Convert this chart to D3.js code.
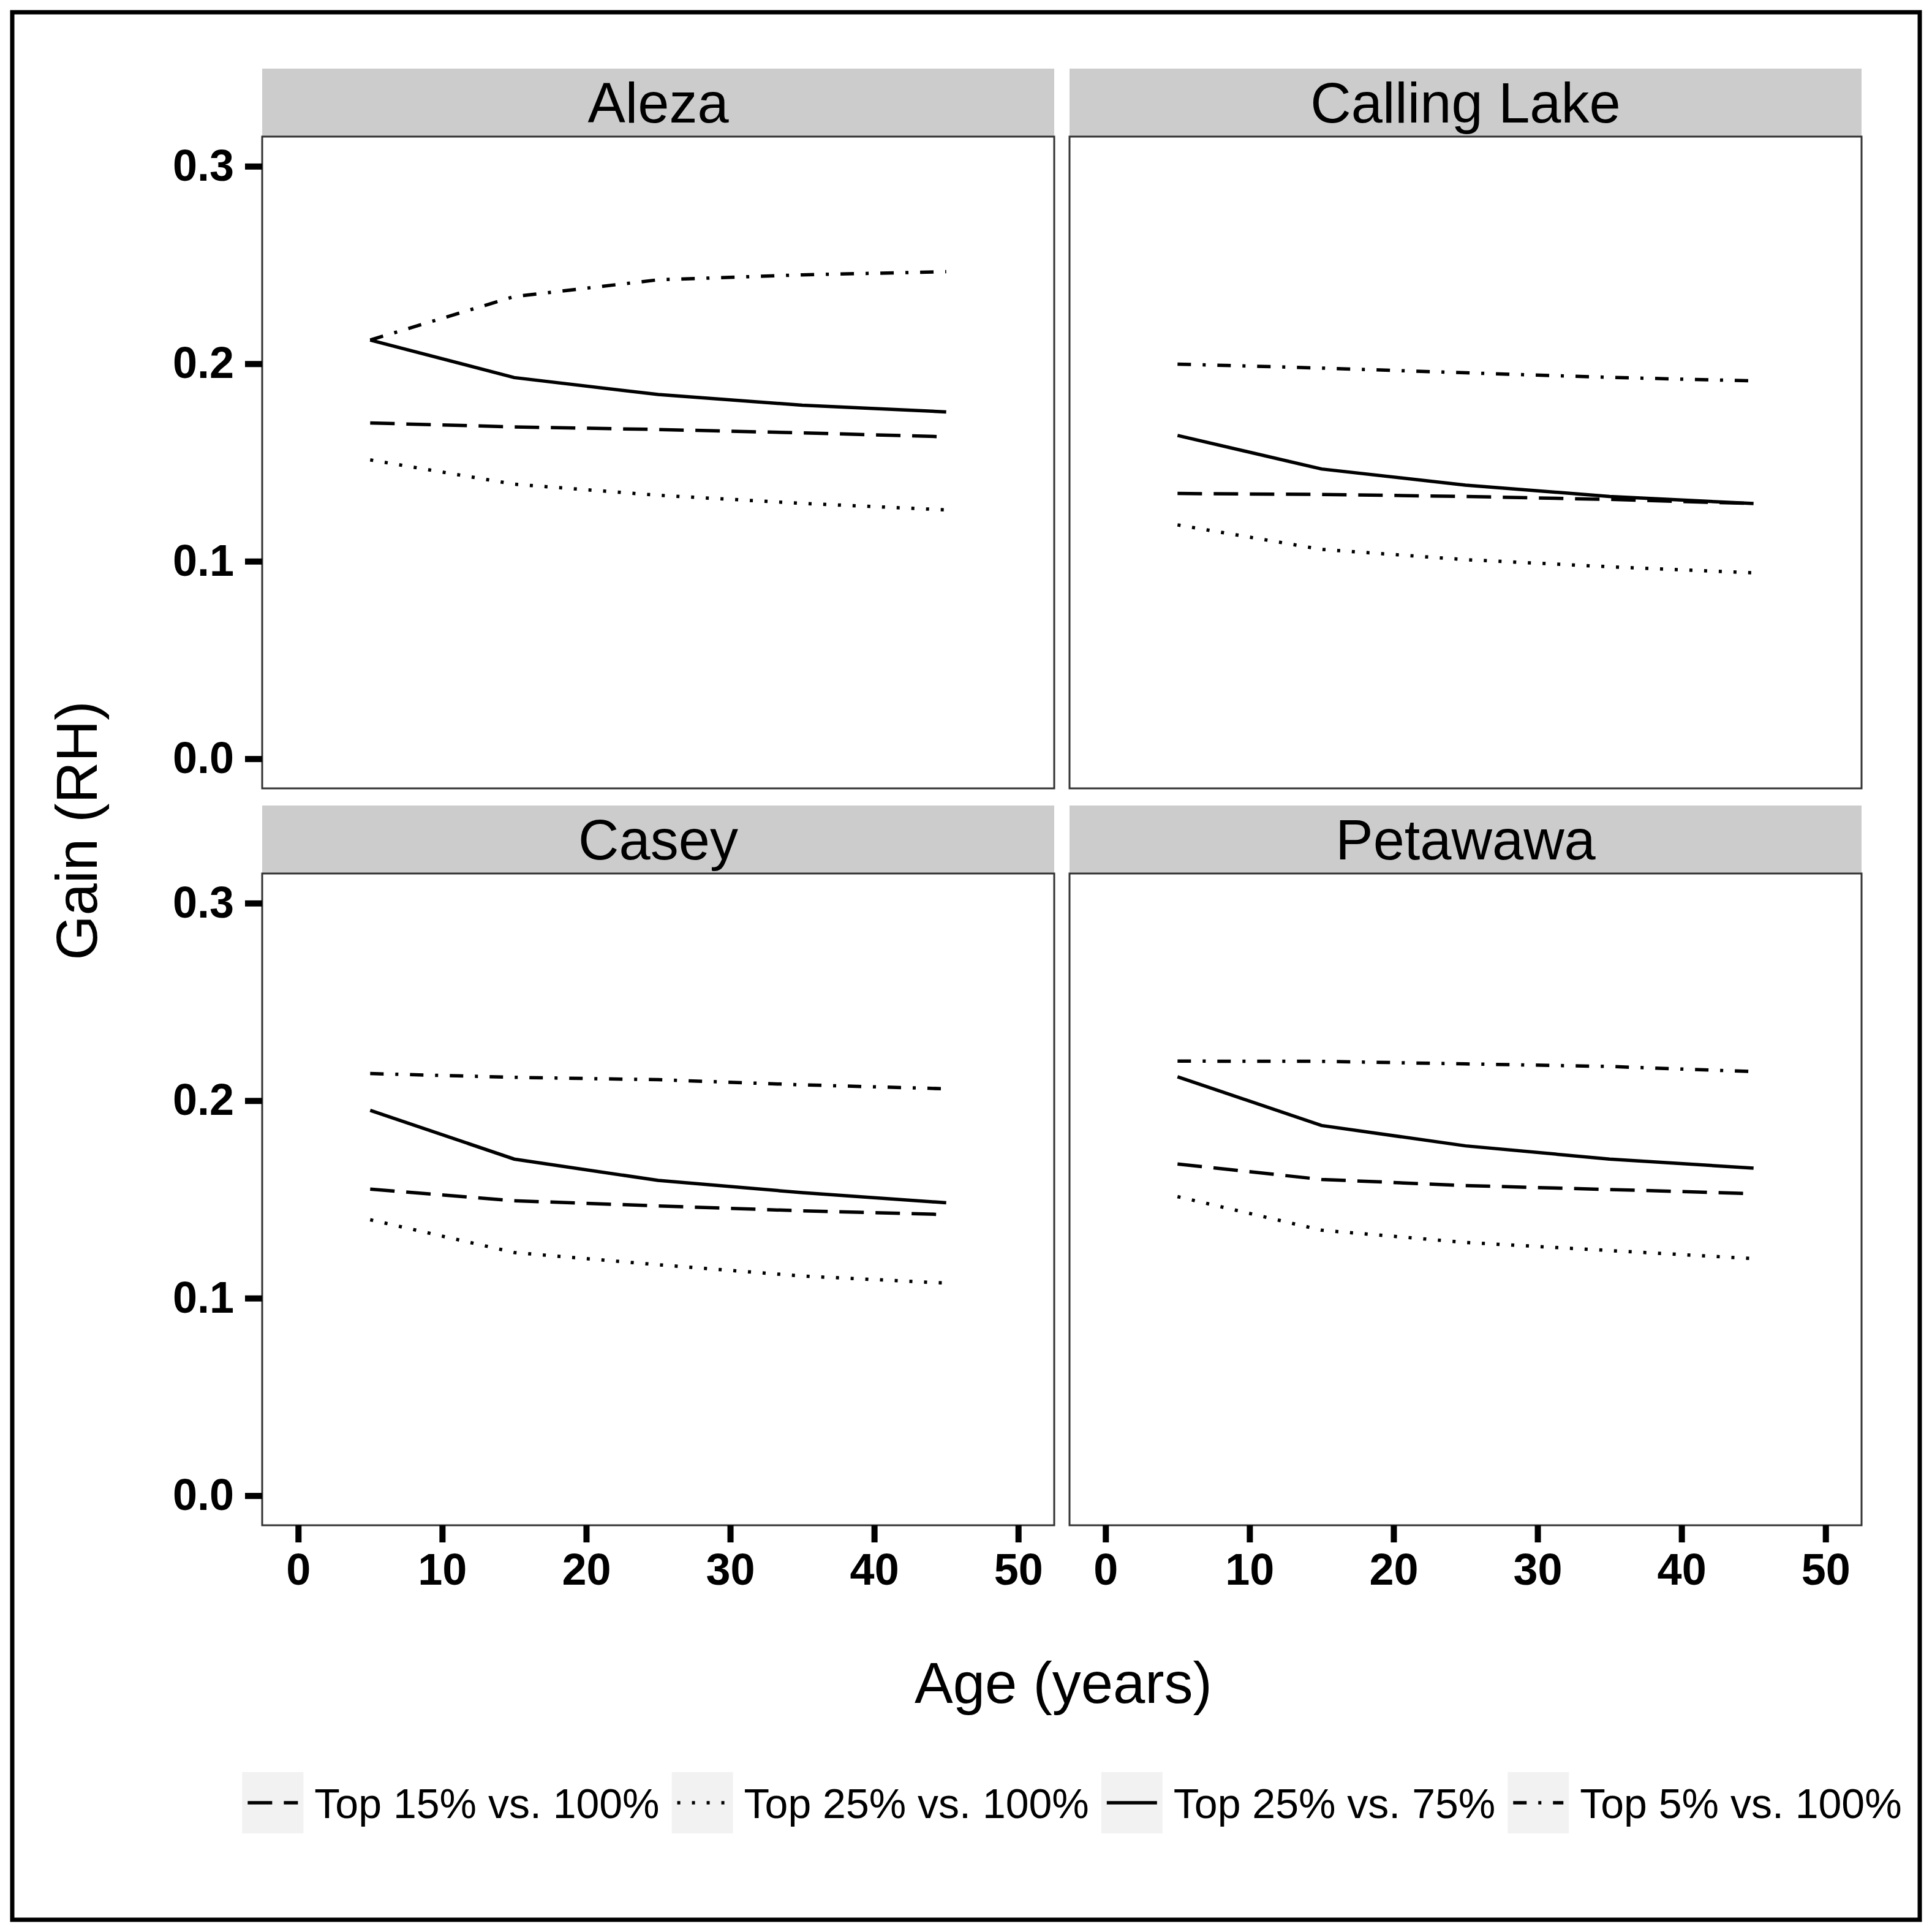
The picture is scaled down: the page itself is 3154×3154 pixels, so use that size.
<!DOCTYPE html>
<html>
<head>
<meta charset="utf-8">
<script src="https://cdn.jsdelivr.net/npm/d3@7"></script>
<style>
  body { margin: 0; background: #fff; }
  text { font-family: "Liberation Sans", Arial, sans-serif; }
</style>
</head>
<body>
<svg id="chart" width="3154" height="3154"></svg>
<script>
// ages at which gain was estimated
var ages = [5, 15, 25, 35, 45];
var sites = ["Aleza", "Calling Lake", "Casey", "Petawawa"];
var seriesNames = ["Top 15% vs. 100%", "Top 25% vs. 100%", "Top 25% vs. 75%", "Top 5% vs. 100%"];

// one row per site, same order as sites
var top15vs100 = [
  [0.170, 0.168, 0.1667, 0.165, 0.163],
  [0.1343, 0.1338, 0.1328, 0.1313, 0.1292],
  [0.1552, 0.1493, 0.1467, 0.1442, 0.1423],
  [0.1679, 0.1601, 0.157, 0.155, 0.1529]
];
var top25vs100 = [
  [0.1513, 0.139, 0.1334, 0.1293, 0.126],
  [0.1184, 0.106, 0.1008, 0.0972, 0.0941],
  [0.1397, 0.1231, 0.1169, 0.1112, 0.1076],
  [0.1514, 0.1344, 0.1282, 0.1241, 0.120]
];
var top25vs75 = [
  [0.212, 0.193, 0.1844, 0.179, 0.1756],
  [0.1637, 0.1467, 0.1385, 0.1328, 0.1292],
  [0.1951, 0.1704, 0.1596, 0.1534, 0.1483],
  [0.2121, 0.1874, 0.1771, 0.1704, 0.1658]
];
var top5vs100 = [
  [0.212, 0.234, 0.2425, 0.245, 0.2466],
  [0.1998, 0.1978, 0.1954, 0.1931, 0.1913],
  [0.2137, 0.2118, 0.2106, 0.208, 0.206],
  [0.220, 0.2199, 0.2186, 0.2173, 0.2147]
];
var xTicks = [0, 10, 20, 30, 40, 50];
var yTicks = [0.0, 0.1, 0.2, 0.3];

var seriesValues = [top15vs100, top25vs100, top25vs75, top5vs100];
var dashes = ["40,19", "5,19", null, "22,19,5,19"];

var svg = d3.select("#chart");

// outer frame
svg.append("rect")
  .attr("x", 20).attr("y", 20)
  .attr("width", 3114).attr("height", 3114)
  .attr("fill", "#fff")
  .attr("stroke", "#000")
  .attr("stroke-width", 7);

var panelW = 1293, panelH = 1064, stripH = 111;
var colX = [428, 1746];
var rowY = [223, 1426];

var x = d3.scaleLinear().domain([-2.5, 52.5]).range([0, panelW]);
var y = d3.scaleLinear().domain([-0.015, 0.315]).range([panelH, 0]);

var line = d3.line()
  .x(function (d) { return x(d[0]); })
  .y(function (d) { return y(d[1]); });

sites.forEach(function (site, i) {
  var col = i % 2, row = Math.floor(i / 2);
  var g = svg.append("g").attr("transform", "translate(" + colX[col] + "," + rowY[row] + ")");

  // strip
  g.append("rect")
    .attr("x", 0).attr("y", -stripH)
    .attr("width", panelW).attr("height", stripH)
    .attr("fill", "#cccccc");
  g.append("text")
    .attr("x", panelW / 2).attr("y", -23)
    .attr("text-anchor", "middle")
    .attr("font-size", 92)
    .attr("fill", "#000")
    .text(site);

  g.append("rect")
    .attr("width", panelW).attr("height", panelH)
    .attr("fill", "#fff");

  seriesValues.forEach(function (vals, s) {
    var pts = ages.map(function (a, k) { return [a, vals[i][k]]; });
    g.append("path")
      .attr("d", line(pts))
      .attr("fill", "none")
      .attr("stroke", "#000")
      .attr("stroke-width", 5.5)
      .attr("stroke-dasharray", dashes[s]);
  });

  g.append("rect")
    .attr("width", panelW).attr("height", panelH)
    .attr("fill", "none")
    .attr("stroke", "#333")
    .attr("stroke-width", 3);

  if (col === 0) {
    var ya = g.append("g")
      .call(d3.axisLeft(y).tickValues(yTicks).tickFormat(d3.format(".1f")).tickSize(28).tickPadding(18));
    ya.select(".domain").remove();
    ya.selectAll(".tick line").attr("stroke", "#000").attr("stroke-width", 10);
    ya.selectAll(".tick text")
      .attr("font-family", "Liberation Sans, Arial, sans-serif")
      .attr("font-size", 72).attr("font-weight", "bold").attr("fill", "#000");
  }
  if (row === 1) {
    var xa = g.append("g")
      .attr("transform", "translate(0," + panelH + ")")
      .call(d3.axisBottom(x).tickValues(xTicks).tickSize(28).tickPadding(18));
    xa.select(".domain").remove();
    xa.selectAll(".tick line").attr("stroke", "#000").attr("stroke-width", 10);
    xa.selectAll(".tick text")
      .attr("font-family", "Liberation Sans, Arial, sans-serif")
      .attr("font-size", 72).attr("font-weight", "bold").attr("fill", "#000");
  }
});

// axis titles
svg.append("text")
  .attr("transform", "translate(158,1356) rotate(-90)")
  .attr("text-anchor", "middle")
  .attr("font-size", 94)
  .text("Gain (RH)");

svg.append("text")
  .attr("x", 1736).attr("y", 2780)
  .attr("text-anchor", "middle")
  .attr("font-size", 94)
  .text("Age (years)");

// legend
var legend = svg.append("g");
var keyW = 100, keyGap = 18, itemGap = 20, cursor = 0;
seriesNames.forEach(function (name, s) {
  var item = legend.append("g").attr("transform", "translate(" + cursor + ",0)");
  item.append("rect")
    .attr("width", keyW).attr("height", keyW)
    .attr("fill", "#f2f2f2");
  item.append("line")
    .attr("x1", 9).attr("x2", keyW - 9)
    .attr("y1", keyW / 2).attr("y2", keyW / 2)
    .attr("stroke", "#000")
    .attr("stroke-width", 5.5)
    .attr("stroke-dasharray", dashes[s]);
  var t = item.append("text")
    .attr("x", keyW + keyGap).attr("y", keyW / 2 + 25)
    .attr("font-size", 68)
    .text(name);
  cursor += keyW + keyGap + t.node().getComputedTextLength() + itemGap;
});
cursor -= itemGap;
legend.attr("transform", "translate(" + (1750 - cursor / 2) + ",2893)");
</script>
</body>
</html>
